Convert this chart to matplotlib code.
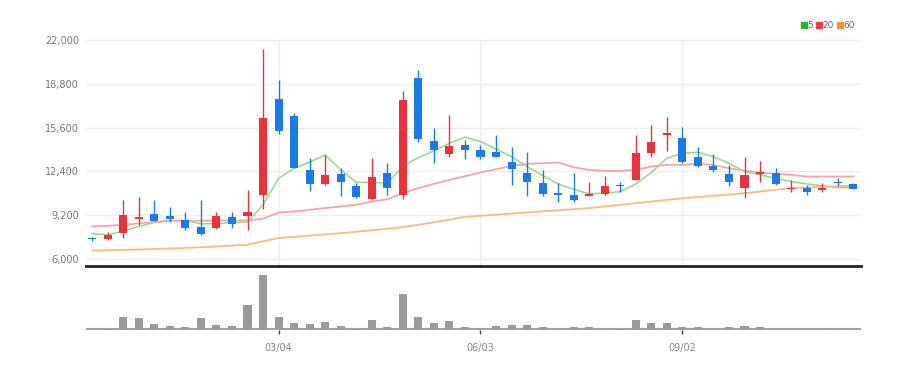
import numpy as np
import pandas as pd
import matplotlib
matplotlib.use("Agg")
import matplotlib.pyplot as plt
from matplotlib.lines import Line2D

# weekly candles
dates = pd.date_range("2018-12-10", periods=50, freq="7D")
opens = [7500, 7460, 7870, 8960, 9300, 9180, 8870, 8330, 8260, 9060,
         9160, 10690, 17660, 16450, 12510, 11490, 12220, 11300, 10400, 12320,
         10690, 19240, 14650, 13680, 14340, 13970, 13850, 13120, 12270, 11540,
         10810, 10690, 10620, 10760, 11440, 11780, 13730, 15060, 14820, 13440,
         12800, 12220, 11220, 12220, 12320, 11100, 11220, 11010, 11660, 11490]
highs = [7600, 7940, 10320, 10520, 10280, 9770, 9450, 10320, 9400, 9450,
         11050, 21330, 19070, 16640, 13360, 13610, 12680, 11540, 13360, 13000,
         18270, 19800, 15600, 16500, 14700, 14340, 15060, 14210, 13800, 12510,
         11540, 12320, 11660, 12030, 11660, 15060, 15790, 16400, 15670, 14170,
         13680, 12880, 13480, 13190, 12630, 11780, 11400, 11590, 11900, 11540]
lows = [7300, 7360, 7530, 8500, 8750, 8720, 8140, 7720, 8210, 8260,
        8140, 9650, 15140, 12630, 10980, 11400, 10570, 10450, 10280, 10690,
        10400, 14580, 13050, 13480, 13310, 13290, 13440, 11420, 10570, 10570,
        10200, 10200, 10570, 10690, 10930, 11740, 13440, 13920, 13000, 12710,
        12390, 11300, 10450, 11660, 11400, 10930, 10690, 10930, 11300, 11100]
closes = [7430, 7720, 9210, 9090, 8800, 8960, 8260, 7820, 9180, 8580,
          9450, 16330, 15380, 12680, 11490, 12150, 11610, 10520, 11980, 11180,
          17620, 14750, 13970, 14290, 13970, 13440, 13480, 12560, 11610, 10760,
          10710, 10280, 10760, 11350, 11370, 13730, 14580, 15190, 13070, 12800,
          12510, 11660, 12150, 12370, 11470, 11220, 10880, 11220, 11520, 11150]
volumes = [1, 4, 38, 35, 18, 13, 9, 35, 15, 13,
           76, 166, 40, 20, 18, 25, 13, 3, 30, 9,
           108, 38, 20, 28, 9, 3, 13, 15, 15, 8,
           3, 9, 8, 4, 4, 30, 20, 20, 9, 8,
           4, 8, 13, 8, 4, 4, 4, 4, 4, 3]

ma5 = [7850, 7770, 8040, 8380, 8670, 8820, 8800, 8580, 8580, 8670,
       8700, 9960, 11900, 12630, 13070, 13610, 12510, 11610, 11590, 11540,
       12760, 13410, 13900, 14460, 14900, 14580, 14040, 13480, 12760, 12100,
       11490, 11100, 10760, 10810, 10930, 11490, 12320, 13360, 13730, 13800,
       13480, 13000, 12390, 12150, 11900, 11660, 11490, 11350, 11220, 11220]
ma20 = [8380, 8430, 8500, 8600, 8700, 8790, 8800, 8800, 8800, 8810,
        8830, 8950, 9400, 9470, 9600, 9720, 9840, 9960, 10200, 10370,
        10810, 11180, 11490, 11780, 12050, 12320, 12560, 12800, 12950, 13000,
        13050, 12710, 12510, 12440, 12440, 12510, 12760, 12880, 12880, 12950,
        12880, 12630, 12460, 12320, 12220, 12150, 12030, 12030, 12030, 12030]
ma60 = [6610, 6640, 6670, 6700, 6730, 6770, 6810, 6860, 6920, 6980,
        7050, 7290, 7530, 7620, 7710, 7800, 7890, 7990, 8100, 8210,
        8330, 8500, 8680, 8870, 9080, 9160, 9240, 9320, 9400, 9480,
        9560, 9640, 9720, 9840, 9960, 10080, 10200, 10320, 10440, 10530,
        10620, 10710, 10810, 10930, 11060, 11180, 11230, 11280, 11320, 11350]

tick_dates = ["2019-03-04", "2019-06-03", "2019-09-02"]

up_col = "#e8333a"
down_col = "#1a7ae6"

fig = plt.figure(figsize=(9.2, 3.7), dpi=100)
ax = fig.add_axes([86/920, 1-266/370, 775/920, 228/370])
axv = fig.add_axes([86/920, 1-330/370, 775/920, 62/370], sharex=ax)

x = np.arange(len(dates))
o = np.array(opens); c = np.array(closes)
cols = [up_col if cc >= oo else down_col for oo, cc in zip(o, c)]
bottoms = np.minimum(o, c)
heights = np.maximum(np.abs(c - o), 70)

ax.vlines(x, lows, highs, colors=cols, linewidth=1, zorder=3)
ax.bar(x, heights, bottom=bottoms, width=0.52, color=cols, zorder=4)

ax.plot(x, ma5, color="#8edc8a", lw=1.1, zorder=2)
ax.plot(x, ma20, color="#f5a5a8", lw=1.3, zorder=2)
ax.plot(x, ma60, color="#f8bb82", lw=1.3, zorder=2)

tick_idx = [list(dates.strftime("%Y-%m-%d")).index(d) for d in tick_dates]
tick_lbl = [dates[i].strftime("%m/%d") for i in tick_idx]

ax.set_xlim(-0.4, len(x) - 0.5)
ax.set_ylim(5490, 22150)
yt = np.arange(6000, 22001, 3200)
ax.set_yticks(yt)
ax.set_yticklabels([f"{v:,}" for v in yt])
ax.tick_params(axis='y', length=0, labelsize=7, colors="#777777", pad=5)
ax.set_xticks(tick_idx)
ax.tick_params(axis='x', length=0, labelbottom=False)
ax.grid(True, color="#eeeeee", lw=1)
ax.set_axisbelow(True)
for s in ['top', 'right', 'left']:
    ax.spines[s].set_visible(False)
ax.spines['bottom'].set_color("#222222")
ax.spines['bottom'].set_linewidth(2)

axv.bar(x, volumes, width=0.52, color="#9a9a9a", zorder=3)
axv.axhline(0, color="#a0a0a0", lw=3, zorder=2)
axv.set_ylim(0, 187)
axv.set_yticks([])
axv.set_xticks(tick_idx)
axv.set_xticklabels(tick_lbl)
axv.tick_params(axis='x', length=3, width=1, colors="#444444", labelsize=7, labelcolor="#888888", pad=6)
for s in ['top', 'right', 'left', 'bottom']:
    axv.spines[s].set_visible(False)

handles = [Line2D([], [], marker='s', ls='', color=cc, markersize=4)
           for cc in ["#22b431", "#f03c45", "#f5962d"]]
fig.legend(handles, ["5", "20", "60"], loc='upper right', bbox_to_anchor=(0.938, 0.965),
           ncol=3, frameon=False, fontsize=6.5, handlelength=0.5, handletextpad=0.15,
           columnspacing=0.4, labelcolor="#666666")

fig.savefig("out.png", dpi=100)
